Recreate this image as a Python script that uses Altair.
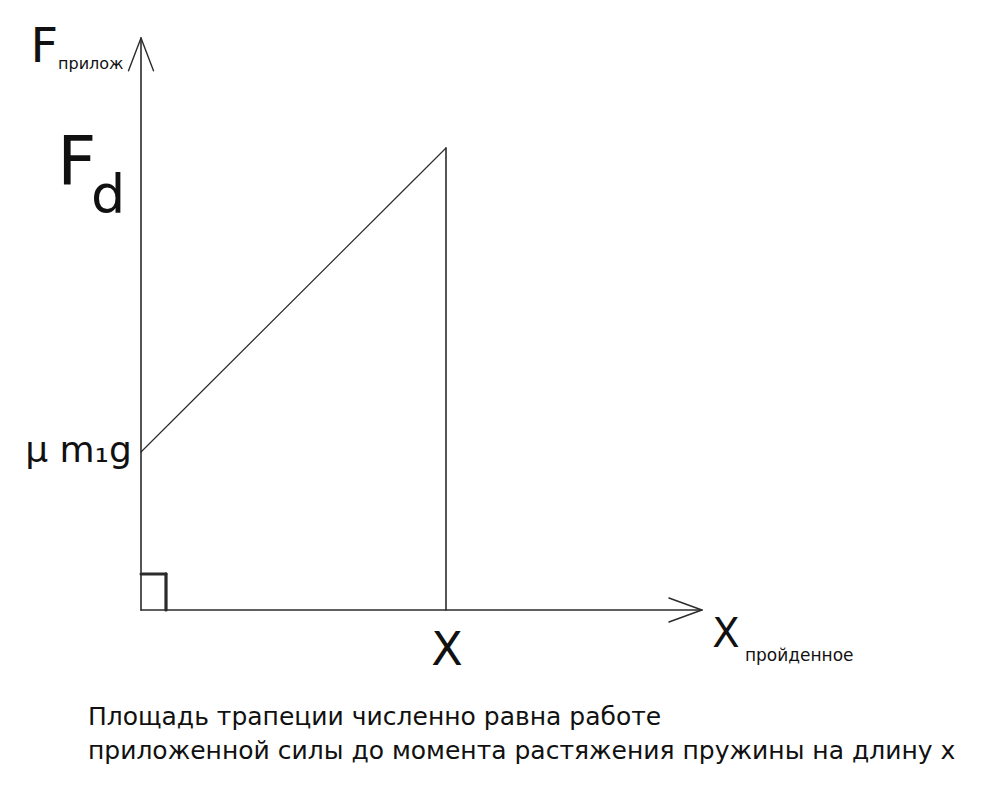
import altair as alt
import pandas as pd

# Sketch units: X (distance travelled) = 1, F0 = 1
x_X = 1.0
F0 = 1.0
mu_m1g = 0.342

# axis extents and arrowheads (sketch units)
x_axis_end = 1.839
y_axis_end = 1.238
x_barb = (1.731, 0.026)
y_barb = (0.041, 1.167)
corner = (0.082, 0.078)

# segments: x, y, x2, y2, stroke width
seg_x1 = [0, 0, x_barb[0], x_barb[0], -y_barb[0], y_barb[0], 0, x_X, 0, corner[0]]
seg_y1 = [0, 0, x_barb[1], -x_barb[1], y_barb[1], y_barb[1], mu_m1g, 0, corner[1], corner[1]]
seg_x2 = [x_axis_end, 0, x_axis_end, x_axis_end, 0, 0, x_X, x_X, corner[0], corner[0]]
seg_y2 = [0, y_axis_end, 0, 0, y_axis_end, y_axis_end, F0, F0, corner[1], 0]
seg_w = [1.6, 1.6, 1.4, 1.4, 1.4, 1.4, 1.2, 1.6, 3.0, 3.2]

segs = pd.DataFrame({"x": seg_x1, "y": seg_y1, "x2": seg_x2, "y2": seg_y2, "w": seg_w})

# labels
lab_text = ["F", "прилож", "F", "d", "μ m₁g", "X", "X", "пройденное",
            "Площадь трапеции численно равна работе",
            "приложенной силы до момента растяжения пружины на длину x"]
lab_x = [-0.362, -0.272, -0.275, -0.164, -0.03, 1.003, 1.873, 1.98, -0.174, -0.174]
lab_y = [1.186, 1.171, 0.920, 0.859, 0.32, -0.119, -0.080, -0.110, -0.249, -0.322]
lab_size = [48, 16, 68, 54, 36, 46, 40, 17, 25, 25]
lab_align = ["left", "left", "left", "left", "right", "center", "left", "left", "left", "left"]

labels = pd.DataFrame({"t": lab_text, "x": lab_x, "y": lab_y, "s": lab_size, "a": lab_align})

xs = alt.Scale(domain=[-141 / 305, (983 - 141) / 305], nice=False, zero=False)
ys = alt.Scale(domain=[(610 - 807) / 462, 610 / 462], nice=False, zero=False)

rules = alt.Chart(segs).mark_rule(color="#2b2b2b", strokeCap="round").encode(
    x=alt.X("x:Q", scale=xs, axis=None),
    y=alt.Y("y:Q", scale=ys, axis=None),
    x2="x2:Q",
    y2="y2:Q",
    strokeWidth=alt.StrokeWidth("w:Q", scale=None, legend=None),
)

layers = [rules]
for al in ["left", "right", "center"]:
    sub = labels[labels["a"] == al]
    layers.append(
        alt.Chart(sub).mark_text(align=al, baseline="alphabetic", font="DejaVu Sans", color="#111111").encode(
            x=alt.X("x:Q", scale=xs, axis=None),
            y=alt.Y("y:Q", scale=ys, axis=None),
            text="t:N",
            size=alt.Size("s:Q", scale=None, legend=None),
        )
    )

chart = alt.layer(*layers).properties(
    width=983, height=807, padding=0, autosize=alt.AutoSizeParams(type="none"),
    background="white"
).configure_view(stroke=None)

chart.save("out.html", embed_options={"renderer": "svg", "actions": False})
